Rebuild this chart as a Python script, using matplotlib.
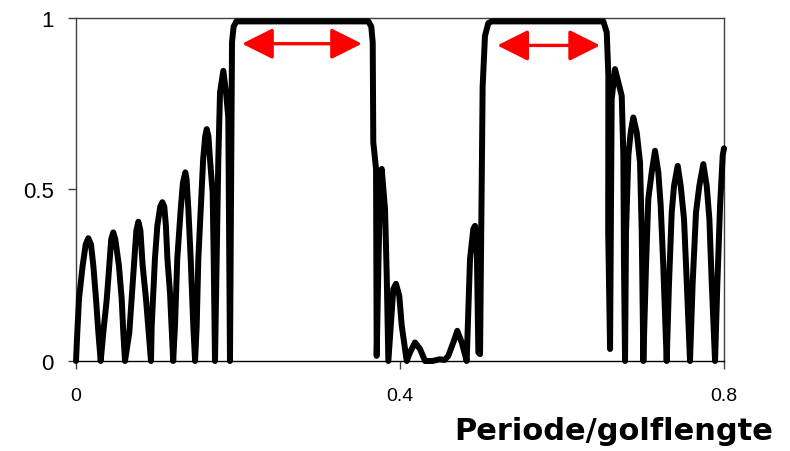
import matplotlib
matplotlib.use("Agg")
import matplotlib.pyplot as plt

# reflectance vs period/wavelength
x = [
    0.0, 0.0016, 0.0037, 0.0082, 0.012, 0.0152, 0.0185, 0.0214, 0.0247, 0.0276, 0.0305,
    0.0337, 0.038, 0.041, 0.0435, 0.046, 0.0485, 0.053, 0.0564, 0.0584, 0.0605,
    0.0658, 0.0687, 0.0716, 0.0745, 0.077, 0.0795, 0.0823, 0.0864, 0.0897, 0.0926,
    0.0934, 0.0975, 0.1004, 0.104, 0.1066, 0.109, 0.111, 0.1128, 0.116, 0.118, 0.120,
    0.1222, 0.125, 0.1293, 0.132, 0.135, 0.1365, 0.1387, 0.1416, 0.1448, 0.147,
    0.149, 0.151, 0.155, 0.157, 0.1595, 0.1614, 0.1635, 0.1654, 0.1687, 0.170, 0.171, 0.1716,
    0.1737, 0.1757, 0.1778, 0.1819, 0.1852, 0.188, 0.1901,
    0.1915, 0.1926, 0.1946, 0.198, 0.361, 0.3645, 0.3663, 0.367, 0.3704, 0.3712,
    0.3735, 0.3753, 0.3774, 0.3815, 0.3836, 0.3856,
    0.39, 0.3917, 0.395, 0.3991, 0.4021, 0.4083,
    0.4123, 0.4185, 0.4247, 0.4309, 0.44, 0.449, 0.455, 0.4596,
    0.4658, 0.4707, 0.4762, 0.4823,
    0.4864, 0.4905, 0.4926, 0.4947, 0.4967, 0.4988,
    0.5005, 0.502, 0.5049, 0.509, 0.513, 0.651, 0.6552, 0.6572, 0.657, 0.6593,
    0.6613, 0.6654, 0.6695, 0.6737, 0.6757, 0.6765, 0.6778,
    0.679, 0.6819, 0.6848, 0.688, 0.6922, 0.6963, 0.6984, 0.7004,
    0.7037, 0.7065, 0.7107, 0.7148, 0.7189, 0.7218, 0.725, 0.7292,
    0.7321, 0.7354, 0.7383, 0.7428, 0.7465, 0.7506, 0.754, 0.758,
    0.7613, 0.7654, 0.7695, 0.7744, 0.7786, 0.7819, 0.7848, 0.7889,
    0.7918, 0.7951, 0.7984, 0.8,
]
r = [
    0.0, 0.083, 0.181, 0.278, 0.34, 0.358, 0.34, 0.278, 0.181, 0.083, 0.0,
    0.083, 0.181, 0.278, 0.355, 0.375, 0.355, 0.278, 0.181, 0.083, 0.0,
    0.083, 0.181, 0.278, 0.38, 0.406, 0.38, 0.278, 0.181, 0.083, 0.0,
    0.1, 0.3, 0.394, 0.45, 0.463, 0.45, 0.394, 0.3, 0.2, 0.1, 0.0,
    0.103, 0.297, 0.443, 0.52, 0.55, 0.53, 0.443, 0.297, 0.103, 0.0,
    0.103, 0.297, 0.49, 0.589, 0.655, 0.676, 0.655, 0.589, 0.49, 0.297, 0.103, 0.0,
    0.297, 0.589, 0.783, 0.846, 0.783, 0.71, 0.0,
    0.5, 0.93, 0.975, 0.99, 0.99, 0.975, 0.929, 0.638, 0.56, 0.015,
    0.3, 0.5, 0.56, 0.443, 0.249, 0.0,
    0.152, 0.21, 0.225, 0.19, 0.103, 0.0,
    0.025, 0.054, 0.035, 0.0, 0.0, 0.005, 0.003, 0.015,
    0.054, 0.088, 0.054, 0.0,
    0.297, 0.385, 0.394, 0.346, 0.025, 0.02,
    0.45, 0.80, 0.948, 0.985, 0.99, 0.99, 0.958, 0.832, 0.375, 0.035,
    0.764, 0.851, 0.813, 0.773, 0.6, 0.278, 0.0,
    0.375, 0.6, 0.667, 0.71, 0.667, 0.579, 0.375, 0.0,
    0.278, 0.472, 0.55, 0.613, 0.55, 0.453, 0.278, 0.0,
    0.229, 0.433, 0.511, 0.569, 0.511, 0.414, 0.229, 0.0,
    0.229, 0.433, 0.511, 0.574, 0.511, 0.414, 0.229, 0.0,
    0.229, 0.453, 0.6, 0.62,
]

# stop bands (double arrows)
band_x = [(0.205, 0.353), (0.52, 0.647)]
band_y = [0.925, 0.92]

plt.rcParams['font.family'] = ['Liberation Sans', 'DejaVu Sans']

fig = plt.figure(figsize=(7.9, 4.52), dpi=100)
ax = fig.add_axes([0.0962, 0.1991, 0.8203, 0.7589])

ax.plot(x, r, color='black', lw=4.3, solid_joinstyle='round',
        solid_capstyle='round', clip_on=False, zorder=3)

for (x0, x1), yy in zip(band_x, band_y):
    ax.annotate('', xy=(x0, yy), xytext=(x1, yy),
                arrowprops=dict(arrowstyle='<|-|>,head_length=1.9,head_width=0.95',
                                color='red', lw=2.4, shrinkA=0, shrinkB=0))

ax.set_xlim(0, 0.8)
ax.set_ylim(0, 1)
ax.set_xticks([0, 0.4, 0.8])
ax.set_xticklabels(['0', '0.4', '0.8'])
ax.set_yticks([0, 0.5, 1])
ax.set_yticklabels(['0', '0.5', '1'])
ax.tick_params(direction='out', length=6, width=1, color='#404040')
ax.tick_params(axis='x', pad=13, labelsize=14)
ax.tick_params(axis='y', pad=10, labelsize=16)
for s in ax.spines.values():
    s.set_color('#404040')
    s.set_linewidth(1)
ax.spines['bottom'].set_color('black')

fig.text(0.979, 0.026, 'Periode/golflengte', ha='right', va='baseline',
         fontsize=22, fontweight='bold', family='DejaVu Sans')

fig.savefig('out.png', dpi=100)
